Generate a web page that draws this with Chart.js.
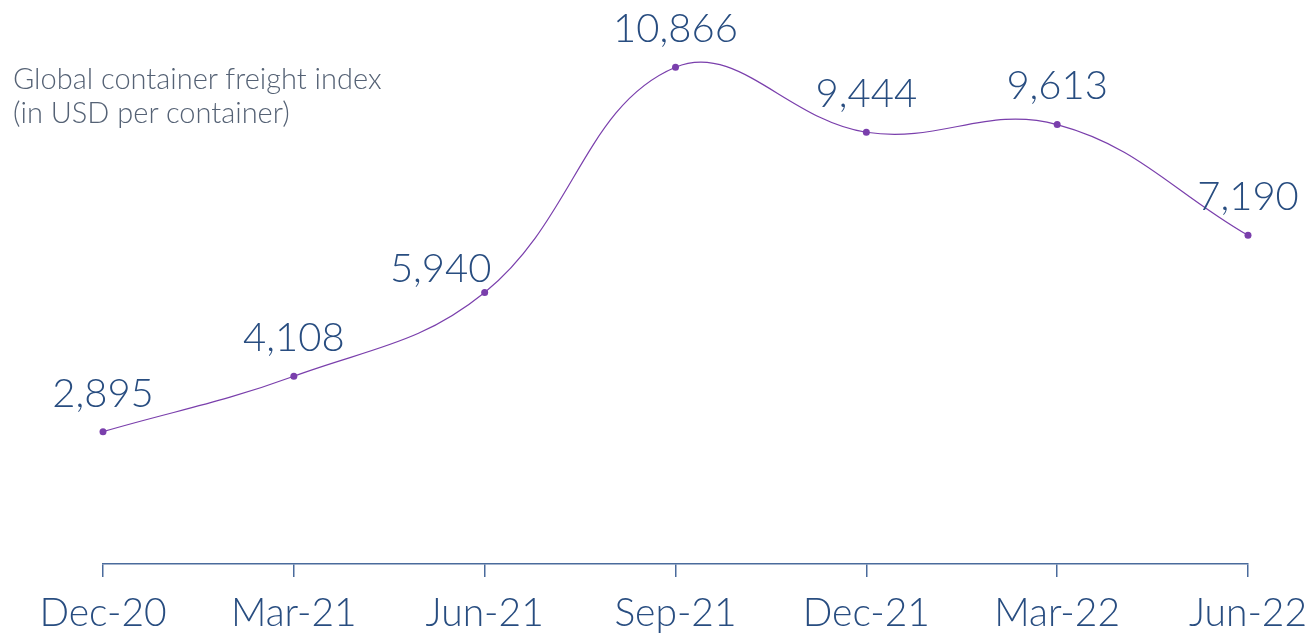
<!DOCTYPE html>
<html>
<head>
<meta charset="utf-8">
<script src="https://cdn.jsdelivr.net/npm/chart.js@4"></script>
<style>
html,body{margin:0;padding:0;background:#fff;}
#wrap{position:relative;width:1309px;height:636px;}
#title{position:absolute;left:13px;top:61px;font-family:Lato,sans-serif;font-weight:300;font-size:29px;line-height:34px;color:#556275;white-space:nowrap;}
canvas{position:absolute;left:0;top:0;}
</style>
</head>
<body>
<div id="wrap">
<canvas id="c" width="1309" height="636"></canvas>
<div id="title">Global container freight index<br>(in USD per container)</div>
</div>
<script>
const categories = ["Dec-20","Mar-21","Jun-21","Sep-21","Dec-21","Mar-22","Jun-22"];
const freightIndex = [2895, 4108, 5940, 10866, 9444, 9613, 7190];

const TEXT_BLUE = '#284d80';
const AXIS_BLUE = '#4a6b9c';
const PURPLE = '#7a3fac';

const valueLabels = {
  id: 'valueLabels',
  afterDatasetsDraw(chart, args, opts) {
    const ctx = chart.ctx;
    const meta = chart.getDatasetMeta(0);
    ctx.save();
    ctx.font = opts.font;
    ctx.fillStyle = opts.color;
    ctx.textAlign = 'center';
    ctx.textBaseline = 'middle';
    meta.data.forEach((pt, i) => {
      const v = chart.data.datasets[0].data[i];
      const s = (opts.shift && opts.shift[i]) || [0, -opts.offset];
      ctx.fillText(v.toLocaleString('en-US'), pt.x + s[0], pt.y + s[1]);
    });
    ctx.restore();
  }
};

new Chart(document.getElementById('c'), {
  type: 'line',
  data: {
    labels: categories,
    datasets: [{
      data: freightIndex,
      borderColor: PURPLE,
      borderWidth: 1.2,
      backgroundColor: PURPLE,
      pointBackgroundColor: PURPLE,
      pointBorderColor: PURPLE,
      pointRadius: 3.5,
      pointBorderWidth: 0,
      tension: 0.4,
      fill: false,
      clip: false
    }]
  },
  options: {
    responsive: false,
    animation: false,
    events: [],
    layout: { padding: { left: 103, right: 61, top: 0, bottom: 0 } },
    plugins: {
      legend: { display: false },
      tooltip: { enabled: false },
      valueLabels: {
        font: '300 40px Lato, sans-serif',
        color: TEXT_BLUE,
        offset: 38,
        shift: { 2: [-44, -23] }
      }
    },
    scales: {
      y: {
        display: false,
        min: 0,
        max: 12250
      },
      x: {
        offset: false,
        grid: { drawOnChartArea: false, drawTicks: true, tickLength: 13, color: AXIS_BLUE, lineWidth: 1.5 },
        border: { display: true, color: AXIS_BLUE, width: 1.5 },
        ticks: {
          color: TEXT_BLUE,
          font: { family: 'Lato, sans-serif', size: 39, weight: '300' },
          padding: 13,
          maxRotation: 0,
          autoSkip: false
        },
        afterFit(scale) { scale.height = 72; scale.paddingLeft = 0; scale.paddingRight = 0; }
      }
    }
  },
  plugins: [valueLabels]
});
</script>
</body>
</html>
